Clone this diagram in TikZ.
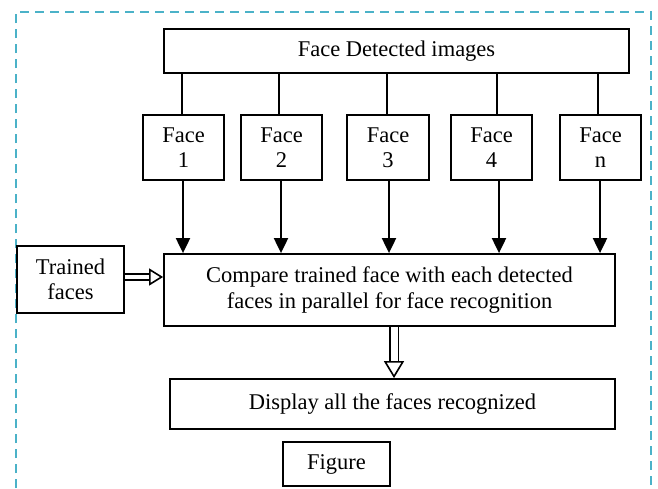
\documentclass[tikz,border=0pt]{standalone}
\usepackage{fontspec}
\setmainfont{Liberation Serif}
\usetikzlibrary{arrows.meta,calc}
\definecolor{borderteal}{RGB}{75,178,200}
\begin{document}
\begin{tikzpicture}[x=1pt,y=-1pt,
  box/.style={draw=black,line width=1.8pt,fill=white,inner sep=0pt,align=center,
    font=\fontsize{22.5}{25.5}\selectfont},
  feed/.style={line width=2pt},
  downarrow/.style={line width=2pt,-{Triangle[length=15pt,width=14pt]}},
  hollowarrow/.style={double=white,line width=1.6pt,
    -{Triangle[open,fill=white,line width=1.6pt]}},
  hollowh/.style={hollowarrow,double distance=4.5pt,-{Triangle[open,fill=white,line width=1.6pt,length=14pt,width=17pt]}},
  hollowv/.style={hollowarrow,double distance=7pt,-{Triangle[open,fill=white,line width=1.6pt,length=17pt,width=20pt]}}]
\useasboundingbox (0,0) rectangle (658,488);
\fill[white] (0,0) rectangle (658,488);
\draw[borderteal,line width=2pt,dash pattern=on 9pt off 6pt] (16,488) -- (16,12) -- (651,12) -- (651,488);

\node[box,minimum width=465pt,minimum height=44pt] (top) at (396.5,51) {Face Detected images};
\node[box,minimum width=81pt,minimum height=65pt] (f1) at (183.5,147.5) {Face\\1};
\node[box,minimum width=81pt,minimum height=65pt] (f2) at (281.5,147.5) {Face\\2};
\node[box,minimum width=82pt,minimum height=65pt] (f3) at (388,147.5) {Face\\3};
\node[box,minimum width=81pt,minimum height=65pt] (f4) at (491.5,147.5) {Face\\4};
\node[box,minimum width=81pt,minimum height=65pt] (fn) at (600.5,147.5) {Face\\n};
\node[box,minimum width=451pt,minimum height=72pt] (cmp) at (389.5,290) {Compare trained face with each detected\\faces in parallel for face recognition};
\node[box,minimum width=107pt,minimum height=67pt] (trn) at (70.5,279.5) {Trained\\faces};
\node[box,minimum width=445pt,minimum height=50pt] (disp) at (392.5,404) {Display all the faces recognized};
\node[box,minimum width=107pt,minimum height=44pt] (fig) at (336.5,464) {Figure};

\coordinate (a1) at (182,0);
\coordinate (a2) at (279,0);
\coordinate (a3) at (387,0);
\coordinate (a4) at (497,0);
\coordinate (a5) at (598,0);
\coordinate (b1) at (183,0);
\coordinate (b2) at (281,0);
\coordinate (b3) at (389,0);
\coordinate (b4) at (499,0);
\coordinate (b5) at (600,0);
\coordinate (c1) at (394,0);

\draw[feed] (top.south -| a1) -- (f1.north -| a1);
\draw[feed] (top.south -| a2) -- (f2.north -| a2);
\draw[feed] (top.south -| a3) -- (f3.north -| a3);
\draw[feed] (top.south -| a4) -- (f4.north -| a4);
\draw[feed] (top.south -| a5) -- (fn.north -| a5);

\draw[downarrow] (f1.south -| b1) -- (cmp.north -| b1);
\draw[downarrow] (f2.south -| b2) -- (cmp.north -| b2);
\draw[downarrow] (f3.south -| b3) -- (cmp.north -| b3);
\draw[downarrow] (f4.south -| b4) -- (cmp.north -| b4);
\draw[downarrow] (fn.south -| b5) -- (cmp.north -| b5);

\draw[hollowh] ($(trn.east)+(0,-2.5)$) -- ($(trn.east -| cmp.west)+(0,-2.5)$);
\draw[hollowv] (cmp.south -| c1) -- (disp.north -| c1);
\end{tikzpicture}
\end{document}
